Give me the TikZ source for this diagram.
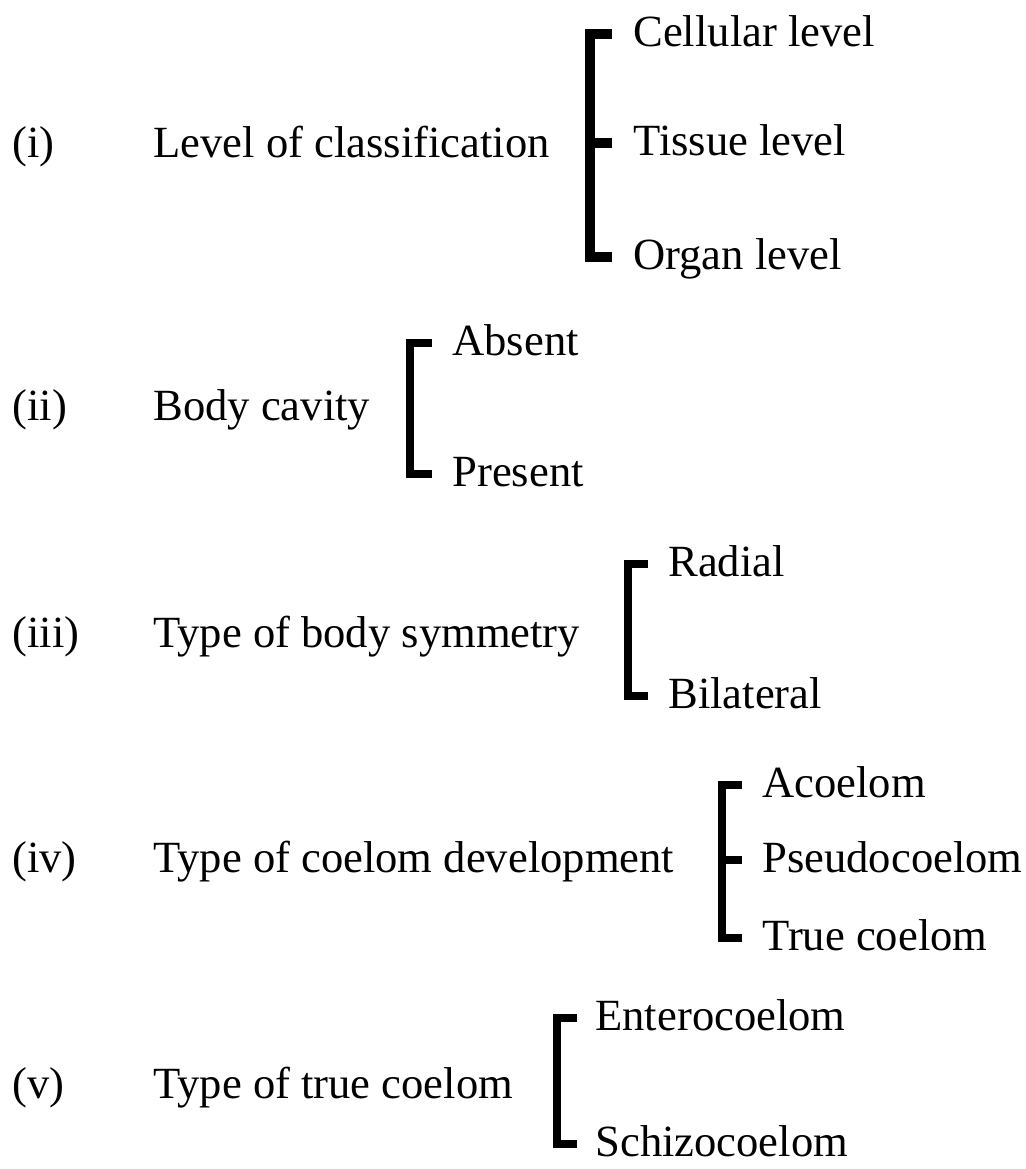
\documentclass[tikz,border=0pt]{standalone}
\usepackage{fontspec}
\setmainfont{Liberation Serif}
\begin{document}
\begin{tikzpicture}[x=0.5pt,y=-0.5pt,
  lbl/.style={anchor=mid west, inner sep=0pt, font=\fontsize{22.3}{26}\selectfont, text=black},
  brk/.style={line width=4pt, line join=miter, line cap=butt},
  brkthick/.style={brk, line width=5pt},
]
\useasboundingbox (0,0) rectangle (1025,1169);
% ---- row (i)
\node[lbl] (n1) at (12,153) {(i)};
\node[lbl] (p1) at (153,153) {Level of classification};
\node[lbl] (c11) at (633,42) {Cellular level};
\node[lbl] (c12) at (633,151) {Tissue level};
\node[lbl] (c13) at (633,265) {Organ level};
\coordinate (s1) at (590,0);
\draw[brkthick] ([xshift=-10.5pt,yshift=4pt]c11.mid west) -- ([yshift=4pt]c11.mid west -| s1) -- ([yshift=4pt]c13.mid west -| s1) -- ([xshift=-10.5pt,yshift=4pt]c13.mid west);
\draw[brkthick] ([yshift=4pt]c12.mid west -| s1) -- ([xshift=-10.5pt,yshift=4pt]c12.mid west);
% ---- row (ii)
\node[lbl] (n2) at (12,416) {(ii)};
\node[lbl] (p2) at (153,416) {Body cavity};
\node[lbl] (c21) at (452,351) {Absent};
\node[lbl] (c22) at (452,482) {Present};
\coordinate (s2) at (410,0);
\draw[brk] ([xshift=-10pt,yshift=4pt]c21.mid west) -- ([yshift=4pt]c21.mid west -| s2) -- ([yshift=4pt]c22.mid west -| s2) -- ([xshift=-10pt,yshift=4pt]c22.mid west);
% ---- row (iii)
\node[lbl] (n3) at (12,643) {(iii)};
\node[lbl] (p3) at (153,643) {Type of body symmetry};
\node[lbl] (c31) at (668,572) {Radial};
\node[lbl] (c32) at (668,704) {Bilateral};
\coordinate (s3) at (628,0);
\draw[brk] ([xshift=-10pt,yshift=4pt]c31.mid west) -- ([yshift=4pt]c31.mid west -| s3) -- ([yshift=4pt]c32.mid west -| s3) -- ([xshift=-10pt,yshift=4pt]c32.mid west);
% ---- row (iv)
\node[lbl] (n4) at (12,868) {(iv)};
\node[lbl] (p4) at (153,868) {Type of coelom development};
\node[lbl] (c41) at (762,793) {Acoelom};
\node[lbl] (c42) at (762,868) {Pseudocoelom};
\node[lbl] (c43) at (762,946) {True coelom};
\coordinate (s4) at (722,0);
\draw[brk] ([xshift=-10pt,yshift=4pt]c41.mid west) -- ([yshift=4pt]c41.mid west -| s4) -- ([yshift=4pt]c43.mid west -| s4) -- ([xshift=-10pt,yshift=4pt]c43.mid west);
\draw[brk] ([yshift=4pt]c42.mid west -| s4) -- ([xshift=-10pt,yshift=4pt]c42.mid west);
% ---- row (v)
\node[lbl] (n5) at (12,1094) {(v)};
\node[lbl] (p5) at (153,1094) {Type of true coelom};
\node[lbl] (c51) at (595,1026) {Enterocoelom};
\node[lbl] (c52) at (595,1152) {Schizocoelom};
\coordinate (s5) at (557,0);
\draw[brk] ([xshift=-9pt,yshift=4pt]c51.mid west) -- ([yshift=4pt]c51.mid west -| s5) -- ([yshift=4pt]c52.mid west -| s5) -- ([xshift=-9pt,yshift=4pt]c52.mid west);
\end{tikzpicture}
\end{document}
